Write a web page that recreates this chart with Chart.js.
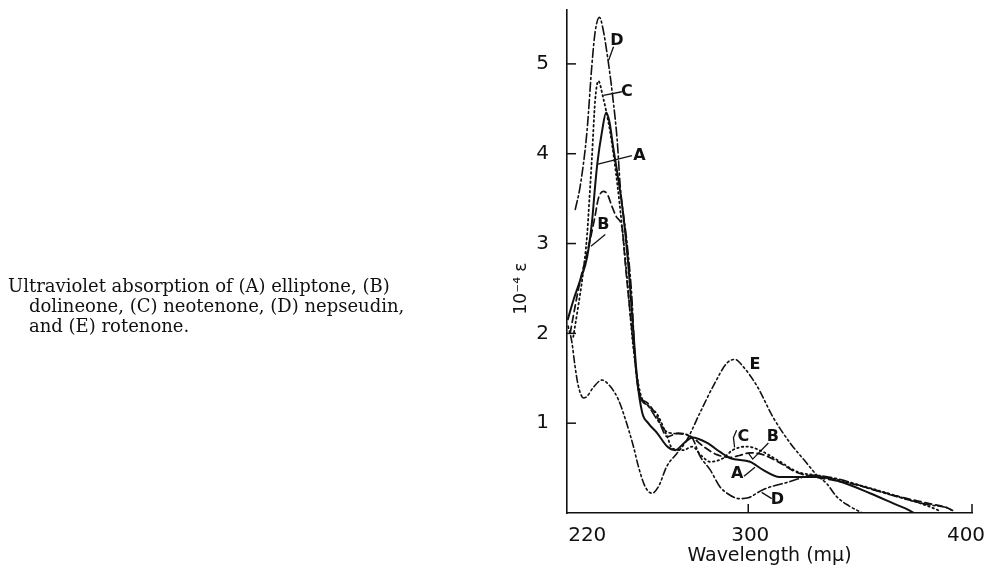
<!DOCTYPE html>
<html>
<head>
<meta charset="utf-8">
<script src="https://cdn.jsdelivr.net/npm/chart.js@4.4.0/dist/chart.umd.min.js"></script>
<style>
  html, body { margin: 0; padding: 0; background: #fff; }
  #wrap { position: relative; width: 991px; height: 576px; }
  #caption {
    position: absolute; left: 8px; top: 276px;
    font-family: "DejaVu Serif", serif; font-size: 18px; line-height: 20px; color: #111;
  }
  #caption .in { padding-left: 21px; }
</style>
</head>
<body>
<div id="wrap">
  <canvas id="uv" width="991" height="576"></canvas>
  <div id="caption">
    <div>Ultraviolet absorption of (A) elliptone, (B)</div>
    <div class="in">dolineone, (C) neotenone, (D) nepseudin,</div>
    <div class="in">and (E) rotenone.</div>
  </div>
</div>
<script>
// wavelength (mμ) and 10^-4 ε
const wlA = [219.3, 222, 225, 228, 230.2, 231.6, 232.6, 234.6, 236.5, 238, 239.6, 241.9, 244, 246.3, 248.6, 250.4, 252.6, 255.3, 259.3, 263.8, 267.3, 271.8, 275, 281.6, 287.4, 292, 300.8, 306.6, 314, 323, 332, 341, 354.4, 366.4, 372, 374];
const epsA = [2.15, 2.38, 2.6, 2.85, 3.25, 3.65, 3.9, 4.24, 4.46, 4.35, 4.08, 3.72, 3.35, 2.79, 2.04, 1.48, 1.12, 1.0, 0.89, 0.74, 0.70, 0.79, 0.84, 0.78, 0.68, 0.61, 0.57, 0.48, 0.40, 0.40, 0.40, 0.35, 0.22, 0.09, 0.03, 0];

const wlB = [220.4, 223, 225, 227.5, 229.4, 231.5, 233, 235.2, 237, 239, 241, 243.7, 245, 248, 250.4, 251.7, 254.8, 259.3, 263.8, 268.7, 275, 280, 286, 292, 296, 300.8, 306.6, 314, 321.8, 330, 345.5, 367.8, 380, 388.7, 392];
const epsB = [2.0, 2.35, 2.6, 2.85, 3.05, 3.3, 3.5, 3.58, 3.55, 3.42, 3.3, 3.16, 2.79, 2.04, 1.48, 1.3, 1.23, 1.07, 0.85, 0.89, 0.84, 0.74, 0.65, 0.62, 0.64, 0.67, 0.65, 0.56, 0.45, 0.40, 0.33, 0.18, 0.11, 0.06, 0.02];

const wlC = [221.8, 224, 225.8, 228, 229, 230.1, 231.6, 233, 235, 238.3, 241.4, 243.7, 245.9, 248.6, 251.7, 256, 259.3, 263.8, 266, 271, 275, 279, 283, 288.8, 293, 299.5, 305, 313, 321.8, 330, 345, 365, 380, 386];
const epsC = [1.96, 2.3, 2.6, 3.1, 3.49, 3.94, 4.6, 4.81, 4.64, 4.24, 3.68, 3.16, 2.6, 1.85, 1.34, 1.18, 1.1, 0.85, 0.72, 0.70, 0.74, 0.64, 0.57, 0.61, 0.70, 0.74, 0.70, 0.59, 0.46, 0.42, 0.34, 0.2, 0.08, 0.02];

const wlD = [222.7, 224.9, 227.9, 230.1, 231.6, 233.5, 235, 237.4, 239.6, 241.4, 242.8, 246, 248, 249.5, 251.5, 255, 259, 264, 270, 274.5, 278.5, 283, 287.4, 290.5, 296, 300, 306.6, 318.7, 329, 340, 355.7, 371, 381, 388.7, 391];
const epsD = [3.38, 3.64, 4.24, 4.98, 5.36, 5.52, 5.4, 5.03, 4.6, 4.16, 3.64, 2.97, 2.4, 1.67, 1.3, 1.2, 1.05, 0.9, 0.88, 0.85, 0.63, 0.48, 0.29, 0.22, 0.16, 0.17, 0.26, 0.35, 0.42, 0.38, 0.26, 0.15, 0.09, 0.06, 0.03];

const wlE = [219.5, 221.2, 222.5, 224, 226.4, 228, 230.8, 234.6, 238.3, 242, 245, 248.7, 251, 254, 257, 260, 263.6, 268, 272.5, 278.5, 284.3, 290.5, 294, 297.7, 304, 311, 318.7, 326, 330.7, 335, 339.6, 345, 351];
const epsE = [2.08, 1.9, 1.65, 1.42, 1.28, 1.3, 1.4, 1.48, 1.41, 1.26, 1.05, 0.74, 0.51, 0.29, 0.22, 0.3, 0.52, 0.66, 0.81, 1.12, 1.41, 1.67, 1.71, 1.63, 1.41, 1.07, 0.78, 0.56, 0.42, 0.33, 0.18, 0.08, 0];

const xTicks = [220, 300, 400];
const yTicks = [1, 2, 3, 4, 5];

// curve letters: [letter, text position, leader line points] in data units
const curveNotes = [
  ['D', [241.3, 5.26], [[237.6, 5.04], [239.8, 5.19]]],
  ['C', [245.8, 4.69], [[235.3, 4.65], [243.5, 4.69]]],
  ['A', [251.4, 3.98], [[232.4, 3.88], [248.0, 3.98]]],
  ['B', [235.3, 3.21], [[229.7, 2.97], [236.1, 3.10]]],
  ['E', [303.0, 1.65], []],
  ['C', [297.8, 0.85], [[294.8, 0.92], [293.4, 0.84], [293.9, 0.73]]],
  ['B', [311.0, 0.85], [[309.0, 0.78], [302.0, 0.60], [300.0, 0.67]]],
  ['A', [295.1, 0.44], [[298.1, 0.41], [303.0, 0.51]]],
  ['D', [313.0, 0.15], [[306.0, 0.23], [310.5, 0.16]]]
];

function pts(xs, ys) {
  return xs.map((x, i) => ({ x: x, y: ys[i] }));
}

function curve(label, xs, ys, dash, width) {
  return {
    label: label,
    data: pts(xs, ys),
    borderColor: '#111',
    borderWidth: width,
    borderDash: dash,
    borderCapStyle: dash.length ? 'round' : 'butt',
    pointRadius: 0,
    fill: false,
    cubicInterpolationMode: 'monotone'
  };
}

const axisText = {
  id: 'axisText',
  afterDraw(chart) {
    const ctx = chart.ctx;
    const xs = chart.scales.x, ys = chart.scales.y;
    ctx.save();
    ctx.strokeStyle = '#111';
    ctx.fillStyle = '#111';
    ctx.lineWidth = 1.5;

    // y ticks point inward
    ctx.font = '20px "DejaVu Sans"';
    ctx.textAlign = 'right';
    ctx.textBaseline = 'middle';
    ys.ticks.forEach(t => {
      const py = ys.getPixelForValue(t.value);
      ctx.beginPath();
      ctx.moveTo(xs.left, py);
      ctx.lineTo(xs.left + 9, py);
      ctx.stroke();
      ctx.fillText(String(t.value), xs.left - 18, py);
    });

    // x ticks
    ctx.textAlign = 'center';
    ctx.textBaseline = 'top';
    xs.ticks.forEach((t, i) => {
      const px = xs.getPixelForValue(t.value);
      if (i > 0) {
        ctx.beginPath();
        ctx.moveTo(px, ys.bottom);
        ctx.lineTo(px, ys.bottom - 9);
        ctx.stroke();
      }
      ctx.fillText(String(t.value), px + (i === 0 ? 18 : (i === xs.ticks.length - 1 ? -6 : 2)), ys.bottom + 13);
    });

    // axis titles
    ctx.font = '19px "DejaVu Sans"';
    ctx.fillText('Wavelength (mμ)', (xs.left + xs.right) / 2, ys.bottom + 34);

    ctx.translate(xs.left - 45, ys.getPixelForValue(2.5));
    ctx.rotate(-Math.PI / 2);
    ctx.textBaseline = 'middle';
    ctx.font = '17px "DejaVu Sans"';
    ctx.fillText('10⁻⁴ ε', 0, 0);
    ctx.restore();

    // curve letters
    ctx.save();
    ctx.strokeStyle = '#111';
    ctx.fillStyle = '#111';
    ctx.lineWidth = 1.3;
    ctx.font = 'bold 16px "DejaVu Sans"';
    ctx.textAlign = 'center';
    ctx.textBaseline = 'middle';
    curveNotes.forEach(n => {
      const tx = xs.getPixelForValue(n[1][0]), ty = ys.getPixelForValue(n[1][1]);
      ctx.fillText(n[0], tx, ty);
      if (n[2].length) {
        ctx.beginPath();
        n[2].forEach((p, i) => {
          const px = xs.getPixelForValue(p[0]), py = ys.getPixelForValue(p[1]);
          if (i === 0) ctx.moveTo(px, py); else ctx.lineTo(px, py);
        });
        ctx.stroke();
      }
    });
    ctx.restore();
  }
};

new Chart(document.getElementById('uv'), {
  type: 'line',
  data: {
    datasets: [
      curve('A', wlA, epsA, [], 2),
      curve('B', wlB, epsB, [7, 4], 1.7),
      curve('C', wlC, epsC, [1.5, 3.2], 1.8),
      curve('D', wlD, epsD, [9, 3, 2, 3], 1.6),
      curve('E', wlE, epsE, [2, 3, 2, 3, 7, 3], 1.6)
    ]
  },
  options: {
    responsive: false,
    animation: false,
    layout: { padding: { left: 559, right: 19, top: 10, bottom: 55 } },
    plugins: { legend: { display: false }, tooltip: { enabled: false } },
    scales: {
      x: {
        type: 'linear', min: 219, max: 400,
        afterBuildTicks: s => { s.ticks = xTicks.map(v => ({ value: v })); },
        ticks: { display: false },
        grid: { display: false },
        border: { display: true, color: '#111', width: 1.6 }
      },
      y: {
        type: 'linear', min: 0, max: 5.6,
        afterBuildTicks: s => { s.ticks = yTicks.map(v => ({ value: v })); },
        ticks: { display: false },
        grid: { display: false },
        border: { display: true, color: '#111', width: 1.6 }
      }
    }
  },
  plugins: [axisText]
});
</script>
</body>
</html>
